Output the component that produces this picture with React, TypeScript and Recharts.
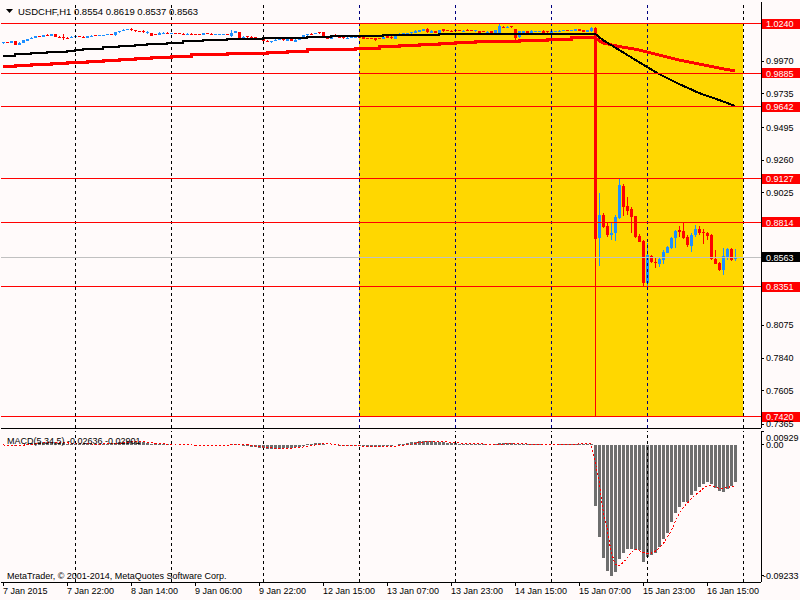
import React from 'react';
import { ComposedChart, Bar, Line, XAxis, YAxis, ReferenceLine, ReferenceArea } from 'recharts';

const FONT = '"Liberation Sans", Arial, sans-serif';
const BG = '#FFFAFA';
const BULL = '#1E90FF';
const BEAR = '#FF0000';

// time axis: one label every 16 H1 bars
const timeTickBars = [0, 16, 32, 48, 64, 80, 96, 112, 128, 144, 160, 176];
const timeLabels = [
  '7 Jan 2015', '7 Jan 22:00', '8 Jan 14:00', '9 Jan 06:00', '9 Jan 22:00', '12 Jan 15:00',
  '13 Jan 07:00', '13 Jan 23:00', '14 Jan 15:00', '15 Jan 07:00', '15 Jan 23:00', '16 Jan 15:00',
];
// bars opening a new day (dashed grid)
const dayStartBars = [18, 42, 65, 89, 113, 137, 161, 185];
const SLOTS = 190; // 184 bars + chart shift

const priceTicks = [0.997, 0.9735, 0.9495, 0.926, 0.9025, 0.8075, 0.784, 0.7605, 0.7365];
const levelLines = [1.024, 0.9885, 0.9642, 0.9127, 0.8814, 0.8351, 0.742];
const bidPrice = 0.8563;
const boxBars = [89, 184];
const boxPrices = [0.742, 1.024];

const macdTicks = [0.00929, 0, -0.09233];
const macdTickText = ['0.00929', '0.00', '-0.09233'];

// [open, high, low, close]
const ohlcBeforeSnb: [number, number, number, number][] = [
  [1.0099, 1.011, 1.0096, 1.0107], [1.0107, 1.011, 1.0099, 1.0102], [1.0102, 1.0117, 1.01, 1.0114], [1.0114, 1.0118, 1.0088, 1.009],
  [1.009, 1.0106, 1.0084, 1.0104], [1.0104, 1.0122, 1.0101, 1.012], [1.0118, 1.0132, 1.0115, 1.013], [1.013, 1.0142, 1.0127, 1.014],
  [1.0138, 1.0152, 1.0135, 1.015], [1.015, 1.0154, 1.0142, 1.0145], [1.0145, 1.016, 1.0143, 1.0158], [1.0158, 1.0166, 1.0148, 1.015],
  [1.015, 1.0166, 1.0148, 1.0164], [1.0162, 1.0164, 1.0144, 1.0146], [1.0146, 1.0149, 1.0134, 1.0136], [1.0145, 1.0165, 1.0124, 1.0137],
  [1.014, 1.0142, 1.0132, 1.0136], [1.0136, 1.0148, 1.0134, 1.0146], [1.0144, 1.015, 1.0142, 1.0148], [1.0148, 1.015, 1.0141, 1.0144],
  [1.0146, 1.0148, 1.0136, 1.0138], [1.0138, 1.0154, 1.0136, 1.0152], [1.015, 1.0156, 1.0148, 1.0154], [1.0156, 1.0158, 1.0148, 1.015],
  [1.015, 1.0157, 1.0148, 1.0155], [1.0154, 1.016, 1.0152, 1.0158], [1.0157, 1.0164, 1.0155, 1.0162], [1.0162, 1.0164, 1.0156, 1.0158],
  [1.0156, 1.018, 1.015, 1.0178], [1.0177, 1.019, 1.0175, 1.0188], [1.0187, 1.0198, 1.0185, 1.0196], [1.0194, 1.02, 1.0192, 1.0198],
  [1.02, 1.0208, 1.019, 1.0192], [1.0192, 1.0195, 1.0182, 1.0184], [1.0186, 1.019, 1.0178, 1.018], [1.0186, 1.0194, 1.017, 1.018],
  [1.017, 1.0184, 1.0166, 1.0182], [1.017, 1.0172, 1.0152, 1.0154], [1.0166, 1.0168, 1.0156, 1.0158], [1.016, 1.0178, 1.0158, 1.0176],
  [1.0172, 1.0178, 1.017, 1.0176], [1.0176, 1.0178, 1.0166, 1.0168], [1.0168, 1.0174, 1.0166, 1.0172], [1.0172, 1.0174, 1.0166, 1.0168],
  [1.017, 1.0172, 1.0164, 1.0166], [1.0168, 1.017, 1.0162, 1.0164], [1.0164, 1.017, 1.0162, 1.0168], [1.0168, 1.017, 1.0162, 1.0164],
  [1.0166, 1.0168, 1.016, 1.0162], [1.0164, 1.0166, 1.0158, 1.016], [1.0158, 1.0172, 1.0156, 1.017], [1.0174, 1.0176, 1.0164, 1.0166],
  [1.0168, 1.017, 1.016, 1.0162], [1.016, 1.0166, 1.0158, 1.0164], [1.0162, 1.0168, 1.016, 1.0166], [1.0164, 1.0168, 1.0162, 1.0166],
  [1.0166, 1.0168, 1.016, 1.0162], [1.015, 1.0194, 1.0146, 1.0176], [1.0172, 1.0188, 1.017, 1.0184], [1.018, 1.0182, 1.0138, 1.014],
  [1.014, 1.0148, 1.0138, 1.0146], [1.0148, 1.015, 1.014, 1.0142], [1.0146, 1.0148, 1.0138, 1.014], [1.0142, 1.0144, 1.0134, 1.0136],
  [1.0134, 1.0138, 1.0132, 1.0136], [1.0136, 1.0138, 1.011, 1.0114], [1.0118, 1.012, 1.0106, 1.011], [1.0106, 1.0118, 1.0104, 1.0116],
  [1.0114, 1.0126, 1.0112, 1.0124], [1.0122, 1.0128, 1.012, 1.0126], [1.0126, 1.0128, 1.0118, 1.012], [1.0118, 1.0132, 1.0116, 1.013],
  [1.0128, 1.013, 1.0112, 1.0116], [1.011, 1.0126, 1.0106, 1.0124], [1.0122, 1.0132, 1.012, 1.013], [1.0128, 1.0158, 1.0126, 1.0156],
  [1.0156, 1.0166, 1.0154, 1.0164], [1.0168, 1.017, 1.0162, 1.0164], [1.0168, 1.0174, 1.0166, 1.0172], [1.0178, 1.0182, 1.0168, 1.017],
  [1.0178, 1.018, 1.014, 1.0142], [1.015, 1.0152, 1.013, 1.0132], [1.0132, 1.016, 1.013, 1.0158], [1.016, 1.0162, 1.0148, 1.015],
  [1.0152, 1.0154, 1.0138, 1.014], [1.0144, 1.015, 1.0128, 1.0134], [1.0136, 1.0142, 1.0134, 1.014], [1.0138, 1.0144, 1.0136, 1.0142],
  [1.014, 1.0145, 1.0138, 1.0143], [1.0143, 1.0145, 1.0138, 1.014], [1.0144, 1.0146, 1.013, 1.0132], [1.0138, 1.014, 1.0126, 1.0128],
  [1.0134, 1.0136, 1.0126, 1.0128], [1.0134, 1.0136, 1.0118, 1.0122], [1.0136, 1.0138, 1.013, 1.0132], [1.0128, 1.0144, 1.0126, 1.0142],
  [1.015, 1.0152, 1.0136, 1.0138], [1.0146, 1.0148, 1.0132, 1.0134], [1.0128, 1.0158, 1.0126, 1.0156], [1.015, 1.017, 1.0148, 1.0168],
  [1.0162, 1.0172, 1.016, 1.017], [1.0164, 1.0176, 1.0162, 1.0174], [1.017, 1.018, 1.0168, 1.0178], [1.0172, 1.0192, 1.017, 1.019],
  [1.0182, 1.0197, 1.018, 1.0195], [1.019, 1.0201, 1.0188, 1.0199], [1.0204, 1.0208, 1.017, 1.0178], [1.0172, 1.0192, 1.017, 1.019],
  [1.0188, 1.019, 1.017, 1.0172], [1.0174, 1.0196, 1.0172, 1.0194], [1.02, 1.0202, 1.0182, 1.0184], [1.0194, 1.0196, 1.0186, 1.0188],
  [1.019, 1.0192, 1.0182, 1.0184], [1.0192, 1.0194, 1.0186, 1.0188], [1.0192, 1.0194, 1.0184, 1.0186], [1.0186, 1.0192, 1.0184, 1.019],
  [1.0196, 1.0198, 1.0184, 1.0186], [1.0194, 1.0196, 1.0188, 1.019], [1.0184, 1.0194, 1.0182, 1.0192], [1.0188, 1.019, 1.0174, 1.0176],
  [1.0184, 1.0186, 1.0178, 1.018], [1.0174, 1.0184, 1.0172, 1.0182], [1.0184, 1.0186, 1.0164, 1.0166], [1.0166, 1.0194, 1.016, 1.0192],
  [1.017, 1.0234, 1.0168, 1.0222], [1.0218, 1.0224, 1.0212, 1.0214], [1.0214, 1.022, 1.0206, 1.0218], [1.0222, 1.0226, 1.0206, 1.0214],
  [1.02, 1.0204, 1.0122, 1.014], [1.0142, 1.0186, 1.014, 1.0184], [1.0172, 1.019, 1.017, 1.0188], [1.0186, 1.0188, 1.0166, 1.0168],
  [1.0168, 1.0192, 1.0158, 1.019], [1.018, 1.0188, 1.0178, 1.0186], [1.0182, 1.019, 1.018, 1.0188], [1.019, 1.0192, 1.0174, 1.0176],
  [1.0186, 1.0188, 1.0176, 1.0178], [1.0176, 1.0188, 1.0174, 1.0186], [1.018, 1.0188, 1.0178, 1.0186], [1.0184, 1.0192, 1.0182, 1.019],
  [1.0186, 1.0196, 1.0184, 1.0194], [1.0194, 1.0196, 1.0184, 1.0186], [1.0186, 1.0196, 1.0184, 1.0194], [1.019, 1.0204, 1.0188, 1.0202],
  [1.02, 1.0202, 1.0184, 1.0186], [1.0192, 1.0194, 1.0178, 1.018], [1.0182, 1.0196, 1.018, 1.0194], [1.0184, 1.0214, 1.0182, 1.021],
];

const ohlcAfterSnb: [number, number, number, number][] = [
  [1.021, 1.0218, 0.742, 0.8697], [0.8704, 0.9022, 0.8503, 0.8867], [0.8867, 0.8883, 0.877, 0.8783], [0.8788, 0.8807, 0.8711, 0.8723],
  [0.8723, 0.8819, 0.8687, 0.874], [0.8735, 0.8867, 0.8682, 0.8855], [0.8843, 0.9123, 0.8835, 0.9082], [0.9075, 0.9089, 0.8862, 0.8926],
  [0.8931, 0.8993, 0.8866, 0.8898], [0.8912, 0.8926, 0.8735, 0.8855], [0.8859, 0.8862, 0.8704, 0.8711], [0.8718, 0.873, 0.867, 0.8675],
  [0.8682, 0.869, 0.8348, 0.8376], [0.8376, 0.8668, 0.8348, 0.858], [0.8572, 0.858, 0.852, 0.8532], [0.8532, 0.8556, 0.8489, 0.852],
  [0.8513, 0.8556, 0.8496, 0.8549], [0.8544, 0.8615, 0.8513, 0.8603], [0.8596, 0.8644, 0.8591, 0.8634], [0.8627, 0.8711, 0.862, 0.8704],
  [0.8699, 0.8759, 0.8627, 0.8752], [0.8759, 0.8788, 0.8711, 0.8747], [0.8752, 0.8807, 0.8692, 0.8699], [0.8711, 0.8723, 0.8639, 0.8651],
  [0.8644, 0.8735, 0.8603, 0.8723], [0.8723, 0.8795, 0.8711, 0.8764], [0.8764, 0.8788, 0.8723, 0.8735], [0.8747, 0.8764, 0.8658, 0.8735],
  [0.874, 0.8747, 0.8687, 0.8716], [0.8723, 0.873, 0.8544, 0.8548], [0.8551, 0.8615, 0.8513, 0.8515], [0.852, 0.8532, 0.8467, 0.8472],
  [0.8472, 0.8627, 0.8436, 0.8572], [0.8567, 0.8627, 0.8544, 0.8622], [0.8622, 0.8627, 0.8539, 0.8544], [0.8554, 0.8619, 0.8537, 0.8563],
];

// moving averages: stepped before the SNB move, sloping after it. [bar, value]
const maBlackBefore: [number, number][] = [
  [0, 1.001], [3, 1.002], [7, 1.0027], [11, 1.0036], [16, 1.0043], [18, 1.0053], [20, 1.006], [25, 1.007], [29, 1.0079],
  [33, 1.0086], [36, 1.0096], [41, 1.0103], [45, 1.0113], [50, 1.012], [56, 1.0127], [65, 1.0134], [70, 1.0139], [76, 1.0144],
  [82, 1.0149], [95, 1.0156], [109, 1.0163], [125, 1.0168], [148, 1.0168],
];
const maBlackAfter: [number, number][] = [
  [148, 1.0168], [150, 1.0122], [154, 1.0051], [159, 0.9964], [164, 0.9878], [169, 0.9807], [174, 0.9742], [179, 0.9692], [183, 0.9649],
];
const maRedBefore: [number, number][] = [
  [0, 0.9929], [3, 0.9938], [7, 0.9945], [12, 0.9952], [16, 0.9959], [21, 0.997], [25, 0.9977], [29, 0.9984], [33, 0.9991],
  [37, 0.9998], [42, 1.0007], [47, 1.0015], [56, 1.0022], [61, 1.0029], [66, 1.0036], [71, 1.0043], [76, 1.0051], [82, 1.0056],
  [88, 1.0063], [94, 1.0074], [99, 1.0081], [104, 1.0089], [109, 1.0096], [113, 1.0103], [118, 1.0108], [123, 1.0115],
  [129, 1.0122], [136, 1.0129], [142, 1.0137], [148, 1.0137],
];
const maRedAfter: [number, number][] = [
  [148, 1.0137], [150, 1.0101], [154, 1.0076], [159, 1.0051], [164, 1.0015], [169, 0.9979], [174, 0.995], [179, 0.9921], [183, 0.99],
];

// MACD(5,34,5) main line (histogram)
const macdBefore = [
  -0.0003, -0.0004, -0.0002, -0.0006, -0.0004, 0.0, 0.0005, 0.001, 0.0014, 0.0016,
  0.0018, 0.0018, 0.0019, 0.0016, 0.0012, 0.0009, 0.0007, 0.0007, 0.0006, 0.0005,
  0.0003, 0.0004, 0.0005, 0.0005, 0.0005, 0.0006, 0.0007, 0.0007, 0.0011, 0.0016,
  0.0021, 0.0024, 0.0024, 0.0022, 0.0019, 0.0016, 0.0012, 0.0006, 0.0004, 0.0004,
  0.0004, 0.0002, 0.0001, 0.0, -0.0001, -0.0002, -0.0002, -0.0003, -0.0004, -0.0005,
  -0.0003, -0.0002, -0.0003, -0.0003, -0.0003, -0.0002, -0.0003, 0.0002, 0.0008, 0.0001,
  -0.0006, -0.001, -0.0014, -0.0017, -0.002, -0.0022, -0.0027, -0.003, -0.0029, -0.0027,
  -0.0025, -0.0022, -0.0021, -0.0018, -0.0014, -0.0008, 0.0002, 0.0008, 0.0012, 0.0014,
  0.0006, -0.0003, -0.0002, -0.0003, -0.0006, -0.0009, -0.001, -0.001, -0.0009, -0.0009,
  -0.0011, -0.0013, -0.0015, -0.0017, -0.0015, -0.0012, -0.001, -0.001, -0.0004, 0.0003,
  0.0008, 0.0013, 0.0017, 0.0022, 0.0026, 0.0029, 0.0024, 0.0024, 0.002, 0.002,
  0.0017, 0.0015, 0.0012, 0.001, 0.0008, 0.0007, 0.0006, 0.0006, 0.0006, 0.0003,
  0.0002, 0.0, -0.0003, 0.0002, 0.0012, 0.0014, 0.0015, 0.0015, 0.0004, 0.0004,
  0.0004, 0.0002, 0.0003, 0.0003, 0.0003, 0.0001, 0.0, 0.0, 0.0001, 0.0002,
  0.0004, 0.0004, 0.0005, 0.0007, 0.0005, 0.0003, 0.0004, 0.0008,
];
const macdAfter = [
  -0.0435, -0.0648, -0.0796, -0.0887, -0.0923, -0.0899, -0.0803, -0.0765, -0.0737, -0.0737,
  -0.0742, -0.0739, -0.0824, -0.0794, -0.0777, -0.0761, -0.0723, -0.0667, -0.062, -0.0547,
  -0.0484, -0.0437, -0.0404, -0.0406, -0.0357, -0.0324, -0.0301, -0.0277, -0.0265, -0.0277,
  -0.0308, -0.0329, -0.033, -0.0315, -0.029, -0.0264,
];
// signal line
const signalBefore = [
  -0.0002, -0.0003, -0.0003, -0.0004, -0.0004, -0.0003, -0.0001, 0.0001, 0.0005, 0.0009,
  0.0013, 0.0015, 0.0017, 0.0017, 0.0017, 0.0015, 0.0013, 0.001, 0.0008, 0.0007,
  0.0006, 0.0005, 0.0005, 0.0004, 0.0004, 0.0005, 0.0006, 0.0006, 0.0007, 0.0009,
  0.0012, 0.0016, 0.0019, 0.0021, 0.0022, 0.0021, 0.0019, 0.0015, 0.0011, 0.0008,
  0.0006, 0.0004, 0.0003, 0.0002, 0.0001, 0.0, -0.0001, -0.0002, -0.0003, -0.0003,
  -0.0003, -0.0003, -0.0003, -0.0003, -0.0003, -0.0003, -0.0003, -0.0002, 0.0, 0.0001,
  0.0, -0.0001, -0.0004, -0.0009, -0.0013, -0.0016, -0.0019, -0.0022, -0.0025, -0.0027,
  -0.0027, -0.0026, -0.0024, -0.0022, -0.002, -0.0016, -0.0012, -0.0006, -0.0002, 0.0004,
  0.0008, 0.0007, 0.0005, 0.0002, -0.0002, -0.0005, -0.0007, -0.0008, -0.0009, -0.0009,
  -0.001, -0.001, -0.0011, -0.0013, -0.0014, -0.0014, -0.0014, -0.0013, -0.0011, -0.0009,
  -0.0005, 0.0, 0.0005, 0.0011, 0.0015, 0.0019, 0.0022, 0.0024, 0.0024, 0.0024,
  0.0021, 0.0019, 0.0017, 0.0015, 0.0012, 0.001, 0.0009, 0.0007, 0.0006, 0.0006,
  0.0005, 0.0003, 0.0002, 0.0001, 0.0003, 0.0005, 0.0008, 0.0011, 0.0012, 0.001,
  0.0008, 0.0006, 0.0003, 0.0003, 0.0003, 0.0003, 0.0002, 0.0001, 0.0001, 0.0001,
  0.0001, 0.0002, 0.0003, 0.0004, 0.0005, 0.0005, 0.0005, 0.0005,
];
const signalAfter = [
  -0.0115, -0.025, -0.046, -0.059, -0.075, -0.084, -0.0855, -0.083, -0.08, -0.076,
  -0.074, -0.0745, -0.0758, -0.0765, -0.0765, -0.0752, -0.0727, -0.07, -0.0655, -0.061,
  -0.0545, -0.049, -0.0445, -0.0415, -0.0383, -0.0356, -0.0335, -0.031, -0.0292, -0.029,
  -0.0294, -0.0308, -0.031, -0.0302, -0.0296, -0.029,
];

const ohlc = [...ohlcBeforeSnb, ...ohlcAfterSnb];
const macd = [...macdBefore, ...macdAfter];
const signal = [...signalBefore, ...signalAfter];
const pick = (m: Map<number, number>, i: number) => (m.has(i) ? m.get(i) : null);
const blackA = new Map(maBlackBefore);
const blackB = new Map(maBlackAfter);
const redA = new Map(maRedBefore);
const redB = new Map(maRedAfter);

const rows = Array.from({ length: SLOTS }, (_, i) => {
  const b = ohlc[i];
  return {
    i,
    o: b ? b[0] : null,
    h: b ? b[1] : null,
    l: b ? b[2] : null,
    c: b ? b[3] : null,
    range: b ? [b[2], b[1]] : null,
    macd: i < macd.length ? macd[i] : null,
    signal: i < signal.length ? signal[i] : null,
    blackA: pick(blackA, i),
    blackB: pick(blackB, i),
    redA: pick(redA, i),
    redB: pick(redB, i),
  };
});

const Candle = (props: any) => {
  const { x, y, height, payload } = props;
  if (payload.o == null) return null;
  const { o, h, l, c } = payload;
  const top = Math.min(y, y + height);
  const hgt = Math.abs(height);
  const k = h > l ? hgt / (h - l) : 0;
  const py = (v: number) => top + (h - v) * k;
  const color = c > o ? BULL : BEAR;
  const bx = Math.round(x);
  const b1 = py(Math.max(o, c));
  const b2 = py(Math.min(o, c));
  return (
    <g>
      <rect x={bx + 1} y={top} width={1} height={Math.max(hgt, 1)} fill={color} />
      <rect x={bx} y={b1} width={3} height={Math.max(b2 - b1, 1)} fill={color} />
    </g>
  );
};

const priceTag = (text: string, bg: string) => (props: any) => {
  const vb = props.viewBox;
  const x = vb.x + vb.width + 1;
  const y = vb.y;
  return (
    <g>
      <rect x={x} y={y - 5} width={38} height={10} fill={bg} />
      <text x={x + 4} y={y + 3.5} fontSize={9} fontFamily={FONT} fill="#fff">{text}</text>
    </g>
  );
};

const TimeTick = (props: any) => {
  const { x, y, payload } = props;
  const k = timeTickBars.indexOf(payload.value);
  return (
    <text x={x} y={y + 8} fontSize={9} fontFamily={FONT} fill="#000" textAnchor="start">
      {timeLabels[k]}
    </text>
  );
};

// value labels of the MACD window are kept inside the window
const MacdTick = (props: any) => {
  const { x, y, payload } = props;
  const k = macdTicks.indexOf(payload.value);
  const ty = Math.min(Math.max(y, 7), 146);
  return (
    <text x={payload.value < 0 ? x - 3 : x} y={ty + 3.5} fontSize={9} fontFamily={FONT} fill="#000" textAnchor="start">
      {macdTickText[k]}
    </text>
  );
};

const gridColor = (bar: number) => (bar >= boxBars[0] && bar <= boxBars[1] ? '#000080' : '#000');

export default function App() {
  return (
    <div style={{ position: 'absolute', left: 0, top: 0, width: 800, height: 600, background: BG, overflow: 'hidden' }}>
      <div style={{ position: 'absolute', left: 0, top: 0 }}>
        <ComposedChart
          width={800}
          height={430}
          data={rows}
          margin={{ top: 2, right: 0, bottom: 1, left: 1 }}
          barCategoryGap={0}
          barGap={0}
          style={{ shapeRendering: 'crispEdges' }}
        >
          <XAxis dataKey="i" type="category" height={1} tick={false} tickLine={false} axisLine={{ stroke: '#000' }} />
          <YAxis
            orientation="right"
            width={39}
            type="number"
            domain={[0.7338, 1.0395]}
            allowDataOverflow
            ticks={priceTicks}
            interval={0}
            tickFormatter={(v: number) => v.toFixed(4)}
            tick={{ fontSize: 9, fontFamily: FONT, fill: '#000' }}
            tickSize={3}
            tickMargin={2}
            axisLine={{ stroke: '#000' }}
            tickLine={{ stroke: '#000' }}
          />
          <ReferenceArea
            x1={boxBars[0]}
            x2={boxBars[1]}
            y1={boxPrices[0]}
            y2={boxPrices[1]}
            fill="#FFD700"
            fillOpacity={1}
            stroke="none"
            shape={(p: any) => <rect x={p.x + 2} y={p.y} width={p.width} height={p.height} fill="#FFD700" />}
          />
          {dayStartBars.map((b) => (
            <ReferenceLine key={'g' + b} x={b} stroke={gridColor(b)} strokeDasharray="3 3" />
          ))}
          <ReferenceLine y={bidPrice} stroke="#C0C0C0" label={priceTag(bidPrice.toFixed(4), '#000')} />
          <Bar dataKey="range" barSize={3} shape={<Candle />} isAnimationActive={false} />
          <Line dataKey="redA" type="stepAfter" stroke="#FF0000" strokeWidth={3} dot={false} connectNulls isAnimationActive={false} />
          <Line dataKey="redB" type="linear" stroke="#FF0000" strokeWidth={3} dot={false} connectNulls isAnimationActive={false} />
          <Line dataKey="blackA" type="stepAfter" stroke="#000" strokeWidth={2} dot={false} connectNulls isAnimationActive={false} />
          <Line dataKey="blackB" type="linear" stroke="#000" strokeWidth={2} dot={false} connectNulls isAnimationActive={false} />
          {levelLines.map((v) => (
            <ReferenceLine key={'lv' + v} y={v} stroke="#FF0000" label={priceTag(v.toFixed(4), '#FF0000')} />
          ))}
        </ComposedChart>
      </div>
      <div style={{ position: 'absolute', left: 0, top: 430 }}>
        <ComposedChart
          width={800}
          height={170}
          data={rows}
          margin={{ top: 1, right: 0, bottom: 0, left: 1 }}
          barCategoryGap={0}
          barGap={0}
          style={{ shapeRendering: 'crispEdges' }}
        >
          <XAxis
            dataKey="i"
            type="category"
            height={18}
            ticks={timeTickBars}
            interval={0}
            tick={<TimeTick />}
            tickSize={4}
            tickMargin={0}
            axisLine={{ stroke: '#000' }}
            tickLine={{ stroke: '#000' }}
          />
          <YAxis
            orientation="right"
            width={39}
            type="number"
            domain={[-0.09676, 0.00965]}
            allowDataOverflow
            ticks={macdTicks}
            interval={0}
            tick={<MacdTick />}
            tickSize={3}
            tickMargin={2}
            axisLine={{ stroke: '#000' }}
            tickLine={{ stroke: '#000' }}
          />
          {dayStartBars.map((b) => (
            <ReferenceLine key={'m' + b} x={b} stroke="#000" strokeDasharray="3 3" />
          ))}
          <Bar dataKey="macd" fill="#6E6E6E" barSize={3} isAnimationActive={false} />
          <Line dataKey="signal" type="linear" stroke="#FF0000" strokeWidth={1} strokeDasharray="2 2" dot={false} isAnimationActive={false} />
        </ComposedChart>
      </div>
      <svg width={800} height={600} style={{ position: 'absolute', left: 0, top: 0, pointerEvents: 'none' }}>
        <polygon points="6,9 13,9 9.5,13" fill="#000" />
        <text x={18} y={14.5} fontSize={9.5} fontFamily={FONT} fill="#000">USDCHF,H1 0.8554 0.8619 0.8537 0.8563</text>
        <text x={7} y={443.5} fontSize={9} fontFamily={FONT} fill="#000">MACD(5,34,5) -0.02636 -0.02901</text>
        <text x={7} y={578.5} fontSize={9} fontFamily={FONT} fill="#000">MetaTrader, © 2001-2014, MetaQuotes Software Corp.</text>
      </svg>
    </div>
  );
}
